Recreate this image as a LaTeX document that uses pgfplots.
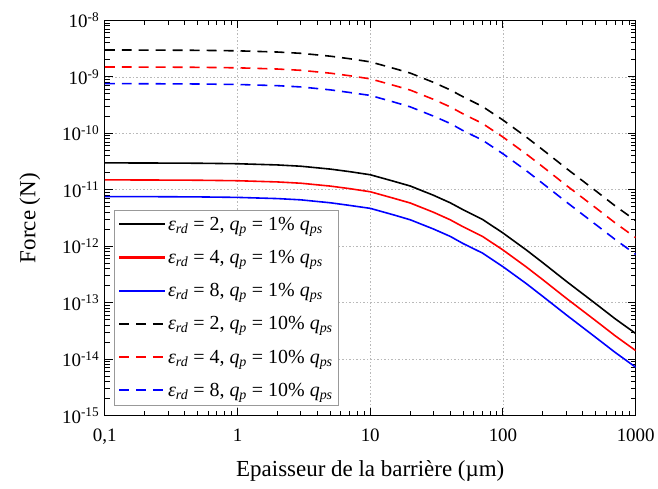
\documentclass[border=0pt]{standalone}
\usepackage{fontspec}
\setmainfont{Liberation Serif}
\usepackage{pgfplots}
\pgfplotsset{compat=1.18}
\usepackage{pgfplotstable}

\pgfplotstableread{
x     s2       s4        s8       d2       d4        d8
0.1   3.00e-11 1.50e-11  7.60e-12 3.00e-9  1.50e-9   7.60e-10
0.2   2.99e-11 1.495e-11 7.58e-12 2.99e-9  1.495e-9  7.58e-10
0.5   2.96e-11 1.48e-11  7.50e-12 2.96e-9  1.48e-9   7.50e-10
1     2.90e-11 1.45e-11  7.35e-12 2.90e-9  1.45e-9   7.35e-10
2     2.76e-11 1.38e-11  7.00e-12 2.76e-9  1.38e-9   7.00e-10
3     2.62e-11 1.31e-11  6.65e-12 2.62e-9  1.31e-9   6.65e-10
5     2.33e-11 1.165e-11 5.90e-12 2.33e-9  1.165e-9  5.90e-10
7     2.10e-11 1.05e-11  5.30e-12 2.10e-9  1.05e-9   5.30e-10
10    1.85e-11 9.25e-12  4.70e-12 1.85e-9  9.25e-10  4.70e-10
15    1.42e-11 7.10e-12  3.60e-12 1.42e-9  7.10e-10  3.60e-10
20    1.17e-11 5.85e-12  2.95e-12 1.17e-9  5.85e-10  2.95e-10
30    8.00e-12 4.00e-12  2.02e-12 8.00e-10 4.00e-10  2.02e-10
40    5.90e-12 2.95e-12  1.50e-12 5.90e-10 2.95e-10  1.50e-10
50    4.45e-12 2.22e-12  1.12e-12 4.45e-10 2.22e-10  1.12e-10
70    3.00e-12 1.50e-12  7.60e-13 3.00e-10 1.50e-10  7.60e-11
100   1.72e-12 8.60e-13  4.35e-13 1.72e-10 8.60e-11  4.35e-11
150   8.60e-13 4.30e-13  2.18e-13 8.60e-11 4.30e-11  2.18e-11
200   5.10e-13 2.55e-13  1.29e-13 5.10e-11 2.55e-11  1.29e-11
300   2.40e-13 1.20e-13  6.10e-14 2.40e-11 1.20e-11  6.10e-12
500   9.60e-14 4.80e-14  2.43e-14 9.60e-12 4.80e-12  2.43e-12
700   5.20e-14 2.60e-14  1.32e-14 5.20e-12 2.60e-12  1.32e-12
1000  2.85e-14 1.42e-14  7.20e-15 2.85e-12 1.42e-12  7.20e-13
}\data

\newcommand{\leg}[2]{\textit{ε}\textsubscript{\textit{rd}} = #1, \textit{q}\textsubscript{\textit{p}} = #2\% \textit{q}\textsubscript{\textit{ps}}}

\begin{document}
\begin{tikzpicture}
\begin{axis}[
  scale only axis, width=532pt, height=396pt,
  xmode=log, ymode=log,
  xmin=0.1, xmax=1000, ymin=1e-15, ymax=1e-8,
  xtick={0.1,1,10,100,1000}, xticklabels={{0,1},1,10,100,1000},
  minor xtick={0.2,0.3,0.4,0.5,0.6,0.7,0.8,0.9,2,3,4,5,6,7,8,9,20,30,40,50,60,70,80,90,200,300,400,500,600,700,800,900},
  ytick={1e-15,1e-14,1e-13,1e-12,1e-11,1e-10,1e-9,1e-8},
  minor ytick={2e-15,3e-15,4e-15,5e-15,6e-15,7e-15,8e-15,9e-15,
    2e-14,3e-14,4e-14,5e-14,6e-14,7e-14,8e-14,9e-14,
    2e-13,3e-13,4e-13,5e-13,6e-13,7e-13,8e-13,9e-13,
    2e-12,3e-12,4e-12,5e-12,6e-12,7e-12,8e-12,9e-12,
    2e-11,3e-11,4e-11,5e-11,6e-11,7e-11,8e-11,9e-11,
    2e-10,3e-10,4e-10,5e-10,6e-10,7e-10,8e-10,9e-10,
    2e-9,3e-9,4e-9,5e-9,6e-9,7e-9,8e-9,9e-9},
  yticklabels={10\textsuperscript{-15},10\textsuperscript{-14},10\textsuperscript{-13},10\textsuperscript{-12},10\textsuperscript{-11},10\textsuperscript{-10},10\textsuperscript{-9},10\textsuperscript{-8}},
  tick label style={font=\fontsize{19}{22}\selectfont},
  xticklabel style={yshift=-10pt},
  yticklabel style={xshift=-2pt},
  xlabel={Epaisseur de la barrière (µm)}, ylabel={Force (N)},
  label style={font=\fontsize{23}{26}\selectfont},
  xlabel style={at={(axis description cs:0.5,-0.139)}, anchor=center},
  ylabel style={at={(axis description cs:-0.141,0.5)}, anchor=center},
  grid=major,
  major grid style={gray!55, dash pattern=on 1.5pt off 2pt, line width=0.7pt},
  axis line style={line width=1.3pt},
  major tick length=8pt, minor tick length=5pt,
  every tick/.style={black, line width=1pt},
  legend style={at={(0.017,0.027)}, anchor=south west, draw=gray!80,
    font=\fontsize{20}{23}\selectfont, row sep=14.5pt, inner xsep=4pt, inner ysep=5pt},
  legend cell align=left,
  legend image code/.code={\draw[#1, line width=2.1pt] (0pt,0pt) -- (46pt,0pt);},
]
\addplot[draw=black, solid, line width=1.6pt] table[x=x,y=s2] {\data};
\addlegendentry{\leg{2}{1}}
\addplot[draw=red, solid, line width=1.6pt] table[x=x,y=s4] {\data};
\addlegendentry{\leg{4}{1}}
\addplot[draw=blue, solid, line width=1.6pt] table[x=x,y=s8] {\data};
\addlegendentry{\leg{8}{1}}
\addplot[draw=black, line width=1.6pt, dash pattern=on 10pt off 7pt] table[x=x,y=d2] {\data};
\addlegendentry{\leg{2}{10}}
\addplot[draw=red, line width=1.6pt, dash pattern=on 10pt off 7pt] table[x=x,y=d4] {\data};
\addlegendentry{\leg{4}{10}}
\addplot[draw=blue, line width=1.6pt, dash pattern=on 10pt off 7pt] table[x=x,y=d8] {\data};
\addlegendentry{\leg{8}{10}}
\end{axis}
\path ([xshift=-105pt,yshift=-72.5pt]current axis.south west) rectangle ([xshift=21pt,yshift=20.5pt]current axis.north east);
\end{tikzpicture}
\end{document}
